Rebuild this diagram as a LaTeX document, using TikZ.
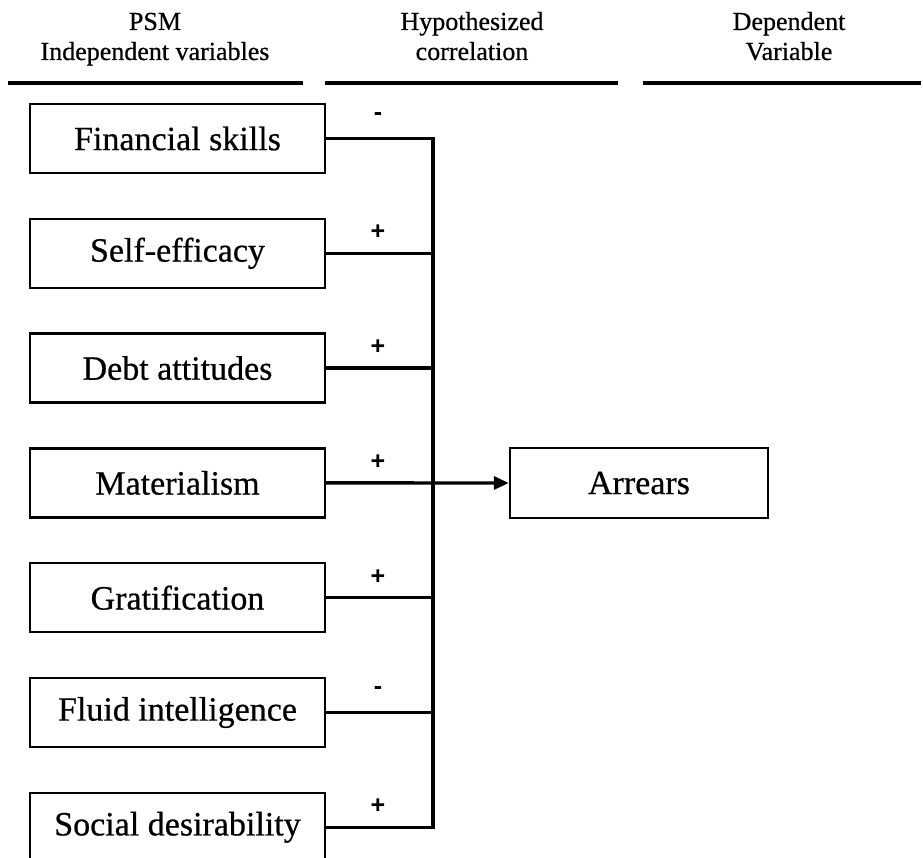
\documentclass[tikz,border=0pt]{standalone}
\usepackage{fontspec}
\setmainfont{Liberation Serif}[FakeBold=0.6]
\newfontfamily\labfont{Liberation Sans}
\usetikzlibrary{arrows.meta}
\begin{document}
\begin{tikzpicture}[x=1pt,y=-1pt,
  varbox/.style={draw=black,line width=2.4pt,minimum width=295pt,minimum height=69pt,inner sep=0pt,
    font=\fontsize{34}{40}\selectfont},
  headtxt/.style={anchor=base,inner sep=0pt,font=\fontsize{26}{30}\selectfont},
  headline/.style={line width=3.8pt},
  conn/.style={line width=3.4pt},
  signlab/.style={inner sep=0pt,font=\labfont\bfseries\fontsize{25}{28}\selectfont}]
\useasboundingbox (0,0) rectangle (923,858);
\clip (0,0) rectangle (923,858);
\fill[white] (0,0) rectangle (923,858);
% headers
\node[headtxt] (h1a) at (155,30) {PSM};
\node[headtxt] (h1b) at (155,60) {Independent variables};
\node[headtxt] (h2a) at (472,30) {Hypothesized};
\node[headtxt] (h2b) at (472,60) {correlation};
\node[headtxt] (h3a) at (789,30) {Dependent};
\node[headtxt] (h3b) at (789,60) {Variable};
\coordinate (l1a) at (8,83); \coordinate (l1b) at (303,83);
\coordinate (l2a) at (325,83); \coordinate (l2b) at (618,83);
\coordinate (l3a) at (643,83); \coordinate (l3b) at (921,83);
\draw[headline] (l1a) -- (l1b);
\draw[headline] (l2a) -- (l2b);
\draw[headline] (l3a) -- (l3b);
% boxes
\node[varbox] (b1) at (177.5,138.5) {Financial skills};
\node[varbox] (b2) at (177.5,253.3) {Self-efficacy};
\node[varbox] (b3) at (177.5,368.1) {Debt attitudes};
\node[varbox] (b4) at (177.5,482.9) {Materialism};
\node[varbox] (b5) at (177.5,597.7) {Gratification};
\node[varbox] (b6) at (177.5,712.5) {Fluid intelligence};
\node[varbox] (b7) at (177.5,827.3) {Social desirability};
\node[varbox,minimum width=258pt,minimum height=70pt] (arr) at (639,483) {Arrears};
\coordinate (bus) at (433,0);
% connectors
\draw[conn] (b1.east) -- (b1.east -| bus) -- (b7.east -| bus) -- (b7.east);
\foreach \i in {2,3,5,6} {\draw[conn] (b\i.east) -- (b\i.east -| bus);}
\draw[conn,-{Triangle[length=15pt,width=13pt]}] (b4.east) -- (arr.west);
% signs
\node[signlab] (s1) at (378,117) {-};
\node[signlab] (s2) at (378,232) {+};
\node[signlab] (s3) at (378,347) {+};
\node[signlab] (s4) at (378,462) {+};
\node[signlab] (s5) at (378,577) {+};
\node[signlab] (s6) at (378,691) {-};
\node[signlab] (s7) at (378,806) {+};
\end{tikzpicture}
\end{document}
